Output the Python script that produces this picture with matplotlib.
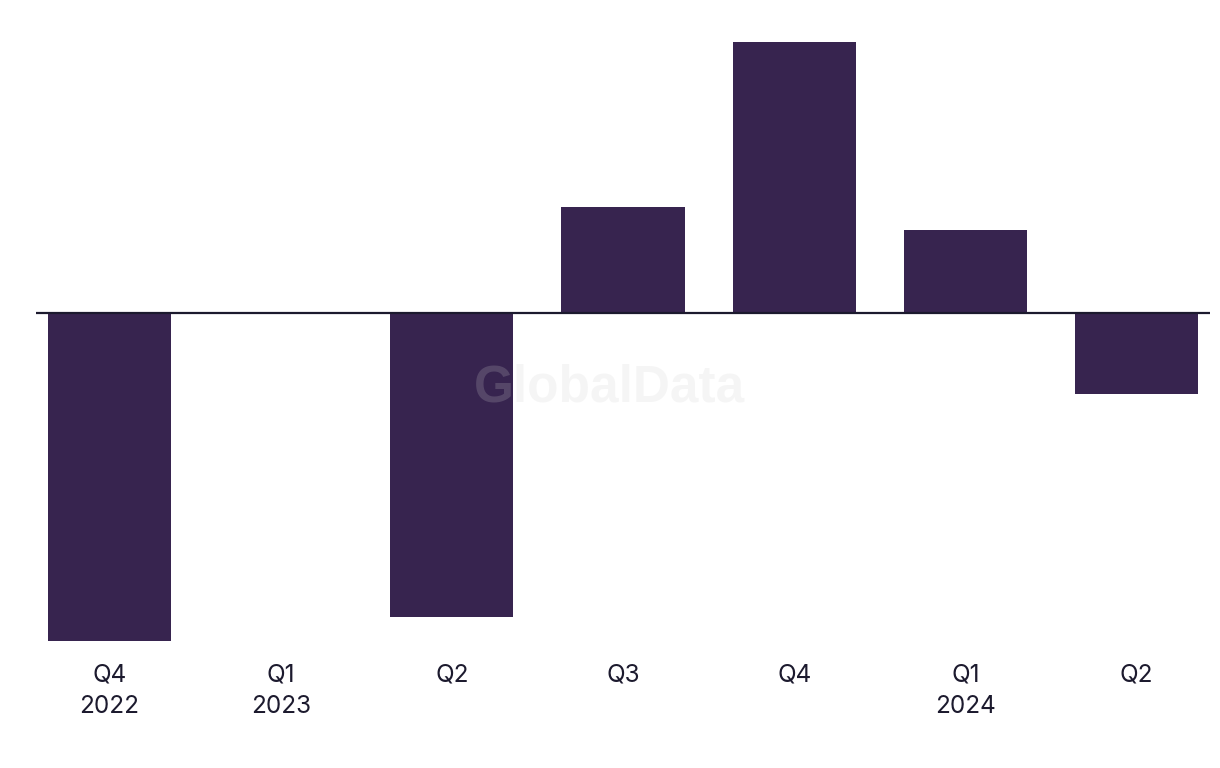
import matplotlib
matplotlib.use('Agg')
import matplotlib.pyplot as plt

# quarter labels and values (arbitrary units)
quarters = ['Q4\n2022', 'Q1\n2023', 'Q2', 'Q3', 'Q4', 'Q1\n2024', 'Q2']
values = [-3.28, 0.0, -3.04, 1.06, 2.71, 0.83, -0.81]

bar_color = '#37244f'
text_color = '#1c1a2e'

fig = plt.figure(figsize=(12.2, 7.68), dpi=100)
# axes placed in pixel terms: x 36..1210, y 22..652 (from top)
ax = fig.add_axes([36 / 1220, (768 - 652) / 768, (1210 - 36) / 1220, (652 - 22) / 768])

x = list(range(len(values)))
ax.bar(x, values, width=0.72, color=bar_color, zorder=2)
ax.axhline(0, color=text_color, linewidth=1.6, zorder=3)

ax.set_xlim(-0.43, 6.43)
ax.set_ylim(-3.39, 2.91)

ax.set_xticks(x)
ax.set_xticklabels(quarters, fontsize=17.5, color=text_color, family='Inter', linespacing=1.48)
ax.tick_params(axis='x', length=0, pad=8.5)
ax.set_yticks([])
for s in ax.spines.values():
    s.set_visible(False)

# watermark
fig.text(610 / 1220, 1 - 388 / 768, 'GlobalData', fontsize=37, fontweight='bold',
         family='Liberation Sans', color='#d0d0d0', alpha=0.2, ha='center', va='center', zorder=10)

fig.savefig('out.png', dpi=100)
